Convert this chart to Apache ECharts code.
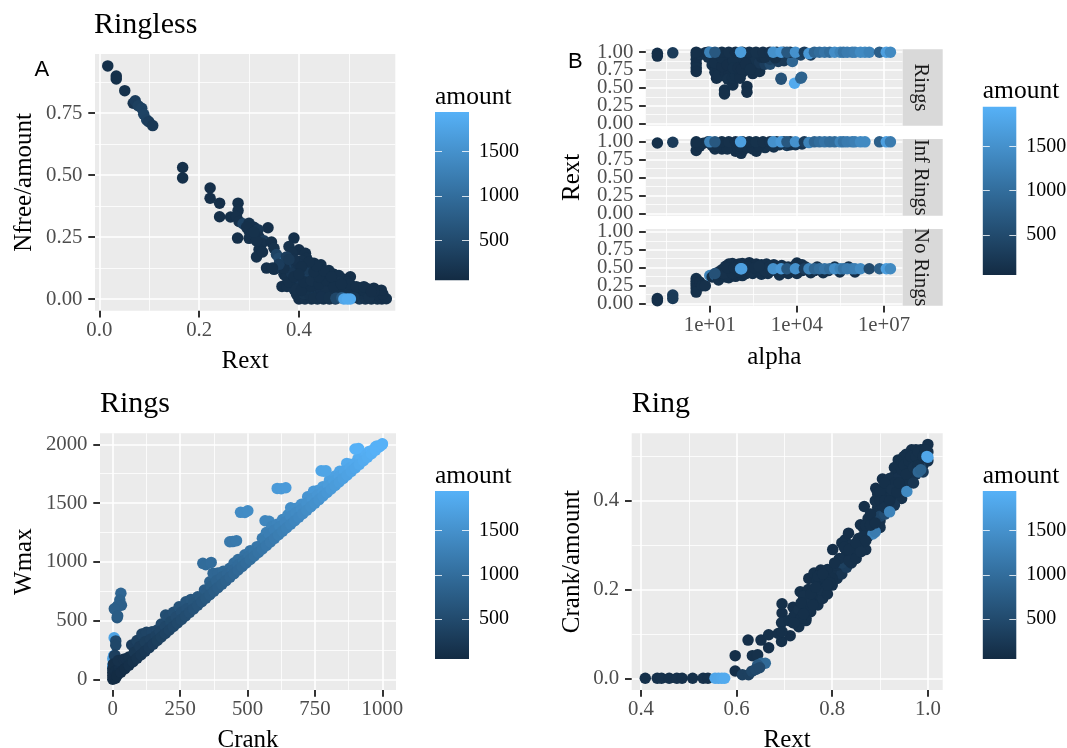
<!DOCTYPE html>
<html><head><meta charset="utf-8">
<style>html,body{margin:0;padding:0;background:#fff}#c{width:1067px;height:748px}</style>
<script src="https://cdn.jsdelivr.net/npm/echarts@6/dist/echarts.min.js"></script>
</head><body><div id="c"></div>
<script>
// ---------- values: [x, y, amount] ----------
const ringless = [
[.017,.941,120],[.034,.90,130],[.034,.888,120],[.051,.841,150],[.068,.79,180],[.072,.80,300],[.078,.78,350],[.085,.77,380],[.089,.746,400],[.095,.723,380],[.099,.716,300],[.107,.70,250],
[.167,.531,120],[.167,.489,120],[.222,.448,110],[.222,.407,110],[.241,.387,110],[.241,.332,110],[.263,.331,120],[.278,.387,120],[.278,.357,130],[.275,.333,130],[.28,.313,130],[.277,.246,110],[.338,.288,110],
[.288,.304,400],[.30,.306,150],[.31,.29,140],[.318,.28,200],[.30,.275,160],[.31,.255,150],[.32,.25,140],[.30,.245,130],[.33,.235,300],[.326,.225,130],[.32,.20,120],[.315,.17,120],[.327,.19,120],[.335,.125,120],[.35,.12,120],[.345,.23,120],[.35,.205,150],[.295,.29,130],[.305,.265,140],[.315,.235,130],[.31,.27,150],
[.39,.246,120],[.38,.212,130],[.40,.199,110],[.413,.185,120],[.386,.185,130],
[.355,.18,400],[.36,.165,500],[.37,.15,900],[.376,.15,1300],[.385,.13,600],[.39,.11,500],[.365,.125,200],[.38,.135,300],
[.366,.051,120],[.376,.051,120],[.39,.04,130],[.37,.10,120],
[.40,0,110],[.412,0,130],[.425,0,120],[.437,0,150],[.449,0,120],[.461,0,140],[.473,0,170],[.521,0,220],[.533,0,160],[.545,0,130],[.557,0,120],[.566,0,110],[.575,.001,120],
[.395,.02,120],[.41,.022,160],[.422,.018,130],[.436,.02,200],[.45,.024,130],[.464,.018,140],[.478,.022,300],[.495,.02,150],[.51,.018,200],[.525,.022,130],[.54,.02,120],[.555,.018,110],[.568,.02,110],[.565,.036,110],
[.39,.06,130],[.405,.058,170],[.42,.062,160],[.432,.06,130],[.447,.052,350],[.46,.058,170],[.475,.06,200],[.49,.05,140],[.505,.054,120],[.52,.045,120],[.537,.042,120],[.55,.044,110],
[.385,.08,140],[.40,.085,200],[.415,.08,240],[.43,.09,160],[.445,.08,150],[.46,.085,130],[.475,.08,120],[.49,.08,120],[.503,.09,110],[.495,.07,120],
[.375,.09,130],[.395,.105,300],[.41,.11,350],[.425,.11,200],[.44,.105,140],[.455,.105,120],[.47,.1,120],[.44,.125,130],[.425,.13,130],[.41,.14,150],[.395,.14,180],[.444,.138,120],[.43,.145,120],[.415,.165,120],[.405,.155,130],
[.43,.04,300],[.47,.03,170],[.445,.03,200],
[.38,.07,120],[.395,.04,130],[.415,.04,150],[.44,.045,140],[.455,.04,130],[.485,.04,130],[.50,.035,130],[.515,.03,120],[.53,.035,120],[.40,.12,180],[.385,.105,200],[.42,.095,300],[.435,.075,180],[.45,.095,130],[.465,.07,150],[.48,.095,120],[.46,.115,120],[.48,.07,130],[.50,.06,120],[.55,.03,110],
[.40,.14,140],[.39,.16,140],[.42,.12,250],[.37,.125,130],[.36,.14,300],[.347,.125,120],[.375,.17,300],[.38,.16,250],
[.43,.005,130],[.445,.008,140],[.46,.006,150],[.48,.006,200],[.51,.006,180],[.54,.006,130],
[.405,.035,120],[.425,.05,120],[.41,.07,120],[.425,.075,130],[.44,.06,120],[.455,.075,120],[.47,.05,120],[.485,.06,120],[.44,.09,120],[.43,.11,120],[.45,.115,120],[.465,.09,120],[.515,.05,120],[.53,.05,120],[.545,.03,110],[.435,.135,120],[.42,.15,120],[.405,.13,120],[.39,.09,120],[.40,.1,120],
[.474,.003,450],[.486,.005,700],[.49,0,1800],[.497,0,1850],[.503,0,1850]
];
const ringsFacet = [
[.156,.985,120],[.156,.945,110],[.53,.99,280],
[3.4,.96,130],[3.4,.90,120],[3.4,.84,110],[3.4,.78,120],[3.4,.73,110],[5,.97,130],[7,.99,120],[8.7,.93,150],
[12,.82,130],[15,.99,140],[15,.90,120],[15,.80,110],[15,.72,120],[17,.635,110],[26,.98,120],[26,.85,110],[26,.75,120],[26,.68,120],[24,.67,110],
[20,.92,120],[20,.76,110],[20,.68,120],[35,.92,110],[35,.86,120],[35,.76,120],[35,.70,110],[55,.92,120],[55,.83,110],[55,.74,120],[55,.68,110],[90,.84,120],[90,.70,110],[120,.95,120],[120,.84,130],[120,.70,110],[150,.90,120],[150,.82,120],[150,.74,110],[210,.88,120],[210,.80,120],[300,.86,110],[300,.92,130],[450,.84,120],[450,.96,120],[700,.90,130],[1000,.95,130],[1500,.88,150],[3000,.94,200],[4500,.92,180],[6000,.92,150],
[32,.47,120],[32,.415,120],[45,.97,110],[45,.80,120],[45,.70,110],[42,.62,130],[62,.54,110],[60,.64,120],[77,.98,130],[77,.86,120],[77,.75,110],[77,.67,120],[100,.90,120],[105,.72,120],[110,.635,110],
[190,.52,110],[190,.44,110],[132,.90,130],[132,.78,110],[180,.76,120],[229,.95,110],[229,.85,120],[300,.70,110],[389,.78,130],[389,.90,150],[520,.73,120],[520,.85,200],[800,.83,300],[1200,.83,500],[1200,.90,350],[2300,.87,300],[3600,.88,250],[7000,.87,900],[2000,.96,150],
[15,.85,120],[26,.80,110],[26,.92,120],[40,.82,110],[65,.88,120],[65,.78,120],[95,.78,110],[125,.76,110],[170,.84,110],[250,.76,120],[600,.93,120],[800,.93,130],[1800,.92,130],
[3.4,1,120],[8.7,1,150],[26,1,120],[45,1,130],[77,1,110],[132,1,120],[229,1,120],[389,1,150],[676,1,130],[1175,1,140],[2000,1,130],[3470,1,180],[5900,1,200],
[1.35e4,.96,400],[3e4,.96,300],
[10,1,1300],[15,1,700],[115,1,1650],[1520,1,1500],[2860,1,1600],[4530,1,700],[8900,1,1500],[1.8e4,1,300],[2.6e4,.98,1600],[4e4,1,900],[6e4,1,1000],[9e4,1,1100],[1.35e5,1,1000],[2e5,1,1450],[3.1e5,1,1300],[4e5,1,1100],[5.4e5,1,1200],[8e5,1,1200],[1e6,1,1250],[1.55e6,1,1400],[2.2e6,1,1400],[3.1e6,1,1300],[7e6,1,800],[1.2e7,1,1700],[1.66e7,1,1400],
[2860,.62,600],[2860,.635,600],[8300,.565,1850],[1.35e4,.635,900],[1.45e4,.65,850]
];
const infRingsFacet = [
[.156,.985,120],[.53,.995,280],
[3.4,.97,130],[3.4,.88,120],[4.5,.94,110],[6,.98,120],
[15,.90,120],[12,.95,130],[26,.90,110],[35,.94,120],[77,.87,110],[55,.92,130],[120,.84,120],[150,.90,110],[400,.87,120],[800,.92,150],[1600,.93,150],[4500,.95,300],[9000,.96,200],
[20,.94,120],[40,.90,120],[90,.92,120],[110,.94,120],[200,.92,120],[300,.90,120],[500,.94,120],[1200,.95,130],[2500,.96,150],[6000,.96,150],[1.5e4,.97,200],
[3.4,1,120],[8.7,1,150],[26,1,120],[45,1,130],[77,1,110],[132,1,120],[229,1,120],[389,1,150],[676,1,130],[1175,1,140],[2000,1,130],[3470,1,180],[5900,1,200],
[10,1,1300],[15,1,700],[115,1,1700],[1520,1,1500],[2860,1,1600],[4530,1,700],[8900,1,1500],[1.8e4,1,300],[2.6e4,.99,1300],[4e4,1,900],[6e4,1,1000],[9e4,1,1100],[1.35e5,1,1000],[2e5,1,1000],[3.1e5,1,1300],[4e5,1,1100],[5.4e5,1,1200],[8e5,1,1200],[1e6,1,1250],[1.55e6,1,1400],[2.2e6,1,1400],[7e6,1,800],[1.2e7,1,1700],[1.66e7,1,1200]
];
const noRingsFacet = [
[.156,.07,120],[.156,.04,110],[.53,.12,280],[.53,.07,260],
[3.4,.35,120],[3.4,.31,110],[3.4,.28,120],[3.4,.25,120],[3.4,.21,110],[3.4,.16,120],[4.5,.30,110],[5.5,.25,120],[7,.25,130],
[10,.39,1300],[12,.37,120],[15,.40,700],[20,.33,130],[26,.39,120],[35,.37,120],[45,.36,120],[77,.38,110],[132,.39,120],
[20,.44,130],[26,.47,120],[35,.52,130],[45,.55,110],[60,.56,120],[77,.52,120],[100,.55,110],[132,.56,120],[180,.53,130],[229,.57,110],[300,.53,120],[400,.55,110],[600,.54,120],[900,.55,130],[1600,.54,120],[3000,.53,130],[1e4,.565,120],[1.5e4,.54,130],
[300,.42,120],[600,.41,120],[1000,.42,120],[2500,.40,130],[5000,.42,130],[1e4,.42,130],[3e4,.43,120],[8e4,.43,120],[3e5,.44,120],[1e6,.44,110],
[50,.486,150],[77,.45,140],[132,.486,120],[229,.486,120],[389,.486,150],[676,.486,130],[1175,.486,140],[2000,.486,130],[3470,.486,180],[5900,.486,200],
[30,.42,130],[60,.42,120],[100,.44,120],[180,.42,120],[180,.47,120],[250,.44,130],[450,.46,120],[800,.46,130],[1300,.46,130],[2200,.46,130],[3500,.45,130],[7000,.46,130],[1.5e4,.46,130],[4e4,.46,130],[1.2e5,.46,120],
[40,.50,120],[70,.50,120],[120,.52,130],[200,.51,120],[350,.50,120],[500,.52,130],[1200,.52,130],[2000,.52,130],[5000,.51,130],[8000,.52,130],[2e4,.51,130],[5e4,.51,130],[2e5,.51,120],[6e5,.51,120],
[15,.42,600],[115,.486,1650],[125,.486,1700],[1520,.486,1500],[2860,.486,1600],[4530,.486,700],[8900,.486,1500],[1.8e4,.486,300],[2.6e4,.486,1300],[4e4,.486,900],[6e4,.486,1000],[9e4,.486,1100],[1.35e5,.486,1000],[2e5,.486,1450],[3.1e5,.486,1300],[4e5,.486,1100],[5.4e5,.486,1200],[8e5,.486,1200],[1e6,.486,1250],[1.55e6,.486,1400],[3.1e6,.486,500],[7e6,.486,800],[1.2e7,.486,1700],[1.66e7,.486,1400]
];
const rings = [
[0,120,1800],[0,175,1750],[0,100,1850],[3,200,1600],[5,354,1750],[11,327,500],[11,290,450],[7,197,350],[8,205,340],
[30,732,900],[26,675,850],[32,630,800],[18,625,800],[5.6,600,800],[16,525,700],[18,540,750],
[0,0,60],[0,30,70],[0,60,80],[0,90,90],[2,130,100],[10,10,60],[10,40,70],[10,70,90],[20,50,90],[25,100,110],[30,130,120],[20,160,130],[40,170,130],[50,175,140],[60,190,150],
[70,292,300],[90,330,350],[108,385,400],[125,400,410],[146,405,430],[165,420,440],[180,470,500],[196,547,550],[210,540,540],[225,570,570],[246,618,620],[271,660,660],[290,680,680],[315,703,700],[340,760,760],[360,830,830],[372,902,900],[390,905,900],[410,920,920],[434,945,940],[450,990,990],[465,1020,1020],[490,1060,1060],[510,1095,1100],[535,1129,1130],[555,1200,1200],[565,1350,1350],[580,1345,1345],[570,1250,1250],[575,1190,1190],[590,1300,1300],[610,1320,1320],[630,1360,1360],[650,1400,1400],[660,1460,1460],[680,1455,1455],[700,1490,1490],[723,1554,1550],[745,1600,1600],[761,1608,1610],[780,1640,1640],[804,1695,1695],[825,1730,1730],[842,1770,1770],[868,1838,1840],[880,1830,1830],[910,1880,1880],[930,1915,1915],[951,1940,1940],[975,1980,1980],[1000,2005,2000],
[334,987,1000],[345,975,980],[365,995,1000],[434,1171,1170],[445,1172,1170],[459,1180,1180],[474,1421,1420],[490,1420,1420],[501,1435,1430],[610,1625,1625],[625,1622,1625],[642,1631,1630],[773,1775,1775],[783,1772,1775],[791,1775,1775],[899,1960,1960],[912,1965,1965],
[80,230,230],[100,280,280],[120,320,320],[140,340,340],[160,370,370],[175,410,410],[195,450,450],[215,490,490],[235,530,530],[255,570,570],[275,600,600],[300,650,650],[325,690,690],[350,740,740],[365,790,790],[385,840,840],[405,870,870],[425,900,900],[445,930,930],[465,975,975],[485,1010,1010],[505,1050,1050],[525,1090,1090],[545,1130,1130],[565,1190,1190],[580,1240,1240],[600,1270,1270],[620,1300,1300],[640,1340,1340],[660,1390,1390],[680,1420,1420],[700,1450,1450],[720,1500,1500],[740,1540,1540],[760,1570,1570],[780,1600,1600],[800,1650,1650],[820,1690,1690],[840,1730,1730],[860,1770,1770],[880,1800,1800],[900,1840,1840],[920,1875,1875],[940,1910,1910],[960,1945,1945],[980,1985,1985],
[15,30,60],[30,60,80],[45,90,90],[60,120,120],[75,150,150],[90,180,180],[105,210,210],[120,240,240],[135,270,270],[150,300,300],[165,330,330],[180,360,360],[195,390,390],[210,420,420],[225,450,450],[240,480,480],[255,510,510],[270,540,540],[285,570,570],[300,600,600],[315,630,630],[330,660,660],[345,690,690],[360,720,720],[375,750,750],[390,780,780],[405,810,810],[420,840,840],[435,870,870],[450,900,900],[465,930,930],[480,960,960],[495,990,990],[510,1020,1020],[525,1050,1050],[540,1080,1080],[555,1110,1110],[570,1140,1140],[585,1170,1170],[600,1200,1200],[615,1230,1230],[630,1260,1260],[645,1290,1290],[660,1320,1320],[675,1350,1350],[690,1380,1380],[705,1410,1410],[720,1440,1440],[735,1470,1470],[750,1500,1500],[765,1530,1530],[780,1560,1560],[795,1590,1590],[810,1620,1620],[825,1650,1650],[840,1680,1680],[855,1710,1710],[870,1740,1740],[885,1770,1770],[900,1800,1800],[915,1830,1830],[930,1860,1860],[945,1890,1890],[960,1920,1920],[975,1950,1950],[990,1980,1980],[1000,2000,2000]
];
const ring = [
[.409,0,120],[.434,0,120],[.443,0,130],[.459,0,120],[.475,0,130],[.486,0,120],[.508,0,120],[.530,0,130],[.540,0,120],
[.555,0,1800],[.562,0,1800],[.569,0,1820],[.575,0,1850],
[.597,.051,110],[.597,.0165,120],[.624,.086,110],[.633,.051,120],[.644,.053,130],[.651,.086,110],[.667,.098,120],[.667,.069,110],
[.652,.034,900],[.66,.034,950],[.644,.03,700],[.612,.008,350],[.625,.008,350],[.632,.016,450],[.64,.02,500],[.648,.024,500],
[.694,.083,120],[.712,.096,110],[.687,.101,120],[.695,.147,110],[.695,.168,120],[.694,.125,130],[.695,.105,120],
[.73,.116,120],[.745,.13,130],[.718,.125,110],[.733,.195,120],[.718,.16,110],[.74,.165,120],[.725,.145,130],[.76,.18,120],[.755,.15,110],[.75,.2,120],[.74,.185,130],[.77,.19,120],[.77,.165,120],[.745,.135,120],
[.71,.13,120],[.72,.14,120],[.73,.155,130],[.735,.135,120],[.75,.17,130],[.76,.2,120],[.78,.18,130],
[.751,.225,110],[.762,.237,120],[.776,.244,110],[.79,.23,130],[.775,.215,110],[.785,.205,120],[.80,.21,130],[.815,.24,120],[.80,.235,130],[.79,.245,120],[.775,.2,130],[.768,.22,120],
[.79,.19,120],[.81,.225,130],[.82,.235,200],[.81,.255,130],[.83,.25,300],
[.801,.29,110],[.827,.312,120],[.834,.327,110],[.82,.26,350],[.84,.26,130],[.85,.29,120],[.84,.30,130],[.83,.28,120],[.815,.27,130],[.86,.30,120],[.87,.29,130],[.82,.305,120],
[.845,.275,130],[.855,.315,130],[.865,.34,120],[.875,.32,130],[.885,.35,120],[.895,.385,130],[.90,.355,130],[.905,.39,140],[.91,.42,130],[.915,.40,130],[.92,.425,130],[.925,.44,120],[.935,.47,120],[.93,.455,130],[.94,.475,130],[.945,.44,140],[.95,.46,130],[.955,.49,120],[.96,.505,120],[.965,.48,130],[.96,.455,140],[.97,.505,120],[.975,.48,130],[.98,.495,120],[.985,.515,120],[.99,.48,130],[.995,.50,130],[.95,.425,150],[.965,.445,160],[.975,.46,200],
[.859,.346,110],[.867,.387,120],[.875,.36,130],[.89,.37,130],[.88,.33,120],[.865,.32,120],[.891,.428,110],[.89,.40,130],[.905,.449,110],[.905,.41,120],[.92,.45,130],[.915,.38,150],[.90,.34,130],[.885,.325,1300],[.89,.33,1200],
[.90,.365,400],[.91,.37,500],[.915,.385,500],
[.938,.492,120],[.95,.50,130],[.966,.515,110],[.975,.515,120],[.99,.515,120],[1,.527,110],[1,.51,130],[1,.49,130],[.985,.50,120],[.97,.49,150],[.955,.475,130],[.94,.455,140],[.93,.44,120],[.925,.41,130],[.94,.425,150],[.955,.44,130],[.97,.46,140],[.985,.475,400],[.945,.405,130],[.93,.39,200],
[.805,.26,120],[.80,.225,120],[.825,.295,120],[.835,.29,120],[.835,.265,130],[.85,.27,120],[.85,.305,120],[.86,.285,130],[.87,.31,120],[.87,.345,120],[.88,.345,120],[.88,.37,120],[.89,.35,120],[.895,.415,120],[.90,.42,120],[.90,.40,120],[.91,.40,120],[.91,.44,120],[.91,.385,130],[.92,.40,120],[.925,.425,130],[.93,.475,120],[.935,.42,120],[.94,.44,120],[.945,.49,120],[.945,.47,120],[.95,.48,120],[.955,.505,120],[.955,.46,120],[.96,.49,120],[.965,.50,120],[.97,.475,130],[.975,.5,120],[.98,.48,120],[.98,.51,120],[.99,.50,120],[.99,.465,300],[.995,.515,120],[.77,.23,120],[.785,.225,120],[.795,.215,120],[.745,.15,120],[.735,.17,120],[.755,.19,120],[.76,.165,120],[.72,.125,120],[.74,.145,120],[.765,.205,120],[.78,.235,120],[.79,.21,120],
[.92,.375,1300],[.956,.421,1400],[.97,.44,200],[.98,.465,900],[.985,.47,850],
[1,.498,1700],[.998,.5,1800]
];
const amountBreaks = [500,1000,1500];
const amountRange = [49,1948];
const facetTicksEven = [0,.5,1];
const facetTicksOdd = [.25,.75];
// ---------- layout and style ----------
const SERIF='"Liberation Serif","Times New Roman",serif';
const GG=['#132B43','#326D9C','#56B1F7'];
const fix=n=>v=>Number(v).toFixed(n);
const exp=v=>'1e+0'+Math.round(Math.log10(v));
const o={animation:false,backgroundColor:'#fff',grid:[],xAxis:[],yAxis:[],series:[],title:[],graphic:[],
 visualMap:[{show:false,type:'continuous',min:amountRange[0],max:amountRange[1],dimension:2,seriesIndex:[0,1,2,3,4,5],inRange:{color:GG}}]};
function axisPair(list,g,a,pos,margin){
 const base={gridIndex:g,type:a.log?'log':'value',logBase:10,min:a.min,max:a.max,position:pos,scale:true};
 const idx=list.length;
 const tickStyle=v=>({show:a.tickShow!==false,length:6.7,customValues:v,lineStyle:{color:'#333',width:2}});
 const labelStyle=v=>a.labels===false?{show:false}:{fontFamily:SERIF,fontSize:20.8,lineHeight:14,color:'#4d4d4d',margin:margin,interval:0,customValues:v,formatter:a.fmt,showMinLabel:true,showMaxLabel:true,hideOverlap:false};
 const major={show:true,showMinLine:true,showMaxLine:true,lineStyle:{color:'#fff',width:1.6}};
 list.push({...base,name:a.name||'',nameLocation:'middle',nameGap:a.gap||0,nameMoveOverlap:false,
  nameTextStyle:{fontFamily:SERIF,fontSize:25,color:'#000'},
  axisLine:{show:false,onZero:false},axisTick:tickStyle(a.major),axisLabel:labelStyle(a.major),splitLine:major});
 if(a.alt) list.push({...base,axisLine:{show:false,onZero:false},axisTick:tickStyle(a.alt),axisLabel:labelStyle(a.alt),splitLine:major});
 list.push({...base,axisLine:{show:false,onZero:false},axisTick:{show:false,customValues:a.minor},axisLabel:{show:false},
  splitLine:{show:true,lineStyle:{color:'#fff',width:.8}}});
 return idx;
}
function panel(box,data,xa,ya){
 const g=o.grid.length;
 o.grid.push({left:box[0],top:box[1],width:box[2]-box[0],height:box[3]-box[1],show:true,backgroundColor:'#ebebeb',borderWidth:0,containLabel:false,outerBoundsMode:'none'});
 const xi=axisPair(o.xAxis,g,xa,'bottom',13), yi=axisPair(o.yAxis,g,ya,'left',12.5);
 o.series.push({type:'scatter',xAxisIndex:xi,yAxisIndex:yi,data:data,symbolSize:11.5,clip:true,itemStyle:{opacity:1}});
}
function colorbar(box,titleTop){
 const g=o.grid.length;
 o.grid.push({left:box[0],top:box[1],width:box[2]-box[0],height:box[3]-box[1],show:true,borderWidth:0,outerBoundsMode:'none',
  backgroundColor:new echarts.graphic.LinearGradient(0,1,0,0,[{offset:0,color:GG[0]},{offset:.5,color:GG[1]},{offset:1,color:GG[2]}])});
 o.xAxis.push({gridIndex:g,type:'value',show:false,min:0,max:1});
 const tick={show:true,inside:true,length:7,customValues:amountBreaks,lineStyle:{color:'#fff',width:1,opacity:.8}};
 o.yAxis.push({gridIndex:g,type:'value',min:amountRange[0],max:amountRange[1],position:'right',axisLine:{show:false,onZero:false},splitLine:{show:false},axisTick:tick,
  axisLabel:{fontFamily:SERIF,fontSize:20,color:'#000',margin:10,interval:0,customValues:amountBreaks,formatter:v=>String(v)}});
 o.yAxis.push({gridIndex:g,type:'value',min:amountRange[0],max:amountRange[1],position:'left',axisLine:{show:false,onZero:false},splitLine:{show:false},axisTick:tick,axisLabel:{show:false}});
 o.title.push({text:'amount',left:box[0],top:titleTop,padding:0,textStyle:{fontFamily:SERIF,fontSize:25.5,fontWeight:'normal',color:'#000'}});
}
function strip(box,label){
 o.graphic.push({type:'rect',z:5,shape:{x:box[0],y:box[1],width:box[2]-box[0],height:box[3]-box[1]},style:{fill:'#d9d9d9'}});
 o.graphic.push({type:'text',z:6,x:(box[0]+box[2])/2-2,y:(box[1]+box[3])/2,rotation:-Math.PI/2,
  style:{text:label,fontFamily:SERIF,fontSize:20.5,fill:'#1a1a1a',align:'center',verticalAlign:'middle'}});
}
const ttl=(t,l,top)=>o.title.push({text:t,left:l,top:top,padding:0,textStyle:{fontFamily:SERIF,fontSize:30,fontWeight:'normal',color:'#000'}});
const tag=(t,l,top)=>o.title.push({text:t,left:l,top:top,padding:0,textStyle:{fontFamily:'"Liberation Sans",Arial,sans-serif',fontSize:22,fontWeight:'normal',color:'#000'}});

panel([95,54,395.3,310.7],ringless,
 {min:-.0086,max:.593,major:[0,.2,.4],minor:[.1,.3,.5],fmt:fix(1),name:'Rext',gap:38},
 {min:-.047,max:.989,major:[0,.25,.5,.75],minor:[.125,.375,.625,.875],fmt:fix(2),name:'Nfree/amount',gap:58});
const bx={log:true,min:.0624,max:4.4e7,major:[10,1e4,1e7],minor:[.316,316,3.16e5],fmt:exp};
const by={min:-.03,max:1.04,major:facetTicksEven,alt:facetTicksOdd,minor:[.125,.375,.625,.875],fmt:fix(2)};
panel([645.8,49.3,902.7,125.7],ringsFacet,{...bx,labels:false,tickShow:false},by);
panel([645.8,139,902.7,215.7],infRingsFacet,{...bx,labels:false,tickShow:false},{...by,name:'Rext',gap:61});
panel([645.8,229,902.7,305.7],noRingsFacet,{...bx,name:'alpha',gap:39},by);
panel([100,433.3,396,690],rings,
 {min:-47.5,max:1050.8,major:[0,250,500,750,1000],minor:[125,375,625,875],fmt:v=>String(v),name:'Crank',gap:38},
 {min:-91,max:2094,major:[0,500,1000,1500,2000],minor:[250,750,1250,1750],fmt:v=>String(v),name:'Wmax',gap:63});
panel([631.7,433.3,942.7,690],ring,
 {min:.3806,max:1.031,major:[.4,.6,.8,1],minor:[.5,.7,.9],fmt:fix(1),name:'Rext',gap:38},
 {min:-.0264,max:.552,major:[0,.2,.4],minor:[.1,.3,.5],fmt:fix(1),name:'Crank/amount',gap:47});
strip([902.7,49.3,942.7,125.7],'Rings');
strip([902.7,139,942.7,215.7],'Inf Rings');
strip([902.7,229,942.7,305.7],'No Rings');
colorbar([435,112,469,280.3],84);
colorbar([982.8,106.7,1016.3,275],78);
colorbar([435,491,469,659],463);
colorbar([982.8,491,1016.3,659],463);
ttl('Ringless',94,10);ttl('Rings',100,389);ttl('Ring',631.7,389);
tag('A',34.5,59);tag('B',568,51);
echarts.init(document.getElementById('c'),null,{renderer:'canvas'}).setOption(o);
</script></body></html>
